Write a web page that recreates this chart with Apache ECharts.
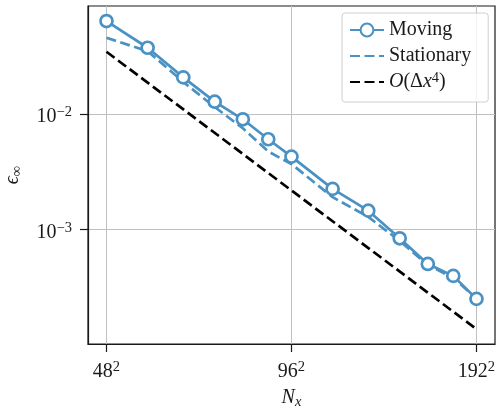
<!DOCTYPE html>
<html>
<head>
<meta charset="utf-8">
<script src="https://cdn.jsdelivr.net/npm/echarts@6/dist/echarts.min.js"></script>
<style>
  html, body { margin: 0; padding: 0; background: #ffffff; }
  #chart { width: 496px; height: 415px; }
</style>
</head>
<body>
<div id="chart"></div>
<script>
// Grid resolutions (points per side); N_x = side^2
const gridSides = [48, 56, 64, 72, 80, 88, 96, 112, 128, 144, 160, 176, 192];
// L-infinity error for the moving and the stationary configuration
const movingError = [0.0641, 0.0376, 0.0208, 0.0128, 0.0090, 0.00604, 0.00427,
                     0.00224, 0.00145, 0.000835, 0.000500, 0.000394, 0.000249];
const stationaryError = [0.0459, 0.0351, 0.0190, 0.0115, 0.00752, 0.00473, 0.00368,
                         0.00190, 0.00128, 0.000792, 0.000490, 0.000378, 0.000251];
// Fourth-order reference line (end points)
const refSides = [48, 192];
const refError = [0.0347, 0.000136];
// Tick positions
const xTickSides = [48, 96, 192];
const yTickValues = [1e-2, 1e-3];

const SERIF = "'Liberation Serif', 'DejaVu Serif', serif";
const BLUE = '#4a91c4';
const INK = '#1a1a1a';
const LINE_W = 2.7;
const DASH = [10, 4.5];

const toPoints = (sides, errs) => sides.map((s, i) => [s * s, errs[i]]);

const supRich = {
  b: { fontFamily: SERIF, fontSize: 20, color: INK, lineHeight: 24 },
  s: { fontFamily: SERIF, fontSize: 14.5, color: INK, lineHeight: 12, verticalAlign: 'top' }
};

const legendText = {
  'Moving': 'Moving',
  'Stationary': 'Stationary',
  'O(Δx4)': '{i|O}(Δ{i|x}{s|4})'
};

const chart = echarts.init(document.getElementById('chart'), null, { renderer: 'canvas' });

chart.setOption({
  animation: false,
  backgroundColor: '#ffffff',
  grid: {
    left: 88, right: 1, top: 6, bottom: 71,
    show: true, borderColor: INK, borderWidth: 1.2, backgroundColor: 'transparent',
    outerBoundsMode: 'none'
  },
  legend: {
    orient: 'vertical',
    left: 342, top: 13,
    padding: [6, 17, 9, 7],
    itemWidth: 34, itemHeight: 16, itemGap: 4,
    backgroundColor: 'rgba(255,255,255,0.8)',
    borderColor: '#cfcfcf', borderWidth: 1, borderRadius: 3,
    selectedMode: false,
    data: [
      { name: 'Moving' },
      { name: 'Stationary', itemStyle: { opacity: 0, color: 'rgba(0,0,0,0)', borderWidth: 0 } },
      { name: 'O(Δx4)', itemStyle: { opacity: 0, color: 'rgba(0,0,0,0)', borderWidth: 0 } }
    ],
    formatter: name => legendText[name],
    textStyle: {
      fontFamily: SERIF, fontSize: 20, color: INK, lineHeight: 22,
      rich: {
        i: { fontFamily: SERIF, fontSize: 20, fontStyle: 'italic', color: INK, lineHeight: 22 },
        s: { fontFamily: SERIF, fontSize: 14.5, color: INK, lineHeight: 12, verticalAlign: 'top' }
      }
    }
  },
  xAxis: {
    type: 'log', logBase: 2,
    min: 2006, max: 42350,
    name: '{n|N}{x|x}',
    nameLocation: 'middle', nameGap: 42,
    nameTextStyle: {
      rich: {
        n: { fontFamily: SERIF, fontSize: 20, fontStyle: 'italic', color: INK, lineHeight: 24 },
        x: { fontFamily: SERIF, fontSize: 14.5, fontStyle: 'italic', color: INK, lineHeight: 14, verticalAlign: 'bottom' }
      }
    },
    axisLine: { show: true, lineStyle: { color: INK, width: 1.2 } },
    axisTick: { show: true, length: 8, lineStyle: { color: INK, width: 1.2 },
                customValues: xTickSides.map(s => s * s) },
    minorTick: { show: false },
    axisLabel: {
      customValues: xTickSides.map(s => s * s),
      margin: 16,
      formatter: v => '{b|' + Math.round(Math.sqrt(v)) + '}{s|2}',
      rich: supRich
    },
    splitLine: { show: true, lineStyle: { color: '#c0c0c0', width: 1 } }
  },
  yAxis: {
    type: 'log', logBase: 10,
    min: 1.01e-4, max: 0.0866,
    name: '{e|ϵ}{s|∞}',
    nameLocation: 'middle', nameGap: 63, nameRotate: 90,
    nameTextStyle: {
      rich: {
        e: { fontFamily: SERIF, fontSize: 20, fontStyle: 'italic', color: INK, lineHeight: 24 },
        s: { fontFamily: SERIF, fontSize: 14.5, color: INK, lineHeight: 14, verticalAlign: 'bottom' }
      }
    },
    axisLine: { show: true, lineStyle: { color: INK, width: 1.2 } },
    axisTick: { show: true, length: 8, lineStyle: { color: INK, width: 1.2 },
                customValues: yTickValues },
    minorTick: { show: false },
    axisLabel: {
      customValues: yTickValues,
      margin: 16,
      padding: [6, 0, 0, 0],
      formatter: v => '{b|10}{s|−' + Math.round(-Math.log10(v)) + '}',
      rich: supRich
    },
    splitLine: { show: true, lineStyle: { color: '#c0c0c0', width: 1 } }
  },
  series: [
    {
      name: 'Stationary', type: 'line', z: 2, silent: true,
      data: toPoints(gridSides, stationaryError),
      symbol: 'none',
      lineStyle: { color: BLUE, width: LINE_W, type: DASH },
      itemStyle: { color: BLUE }
    },
    {
      name: 'O(Δx4)', type: 'line', z: 3, silent: true,
      data: toPoints(refSides, refError),
      symbol: 'none',
      lineStyle: { color: '#000000', width: LINE_W, type: DASH },
      itemStyle: { color: '#000000' }
    },
    {
      name: 'Moving', type: 'line', z: 4, silent: true,
      data: toPoints(gridSides, movingError),
      symbol: 'circle', symbolSize: 12,
      lineStyle: { color: BLUE, width: LINE_W },
      itemStyle: { color: '#ffffff', borderColor: BLUE, borderWidth: 2.7 },
      emphasis: { disabled: true }
    }
  ]
});
</script>
</body>
</html>
